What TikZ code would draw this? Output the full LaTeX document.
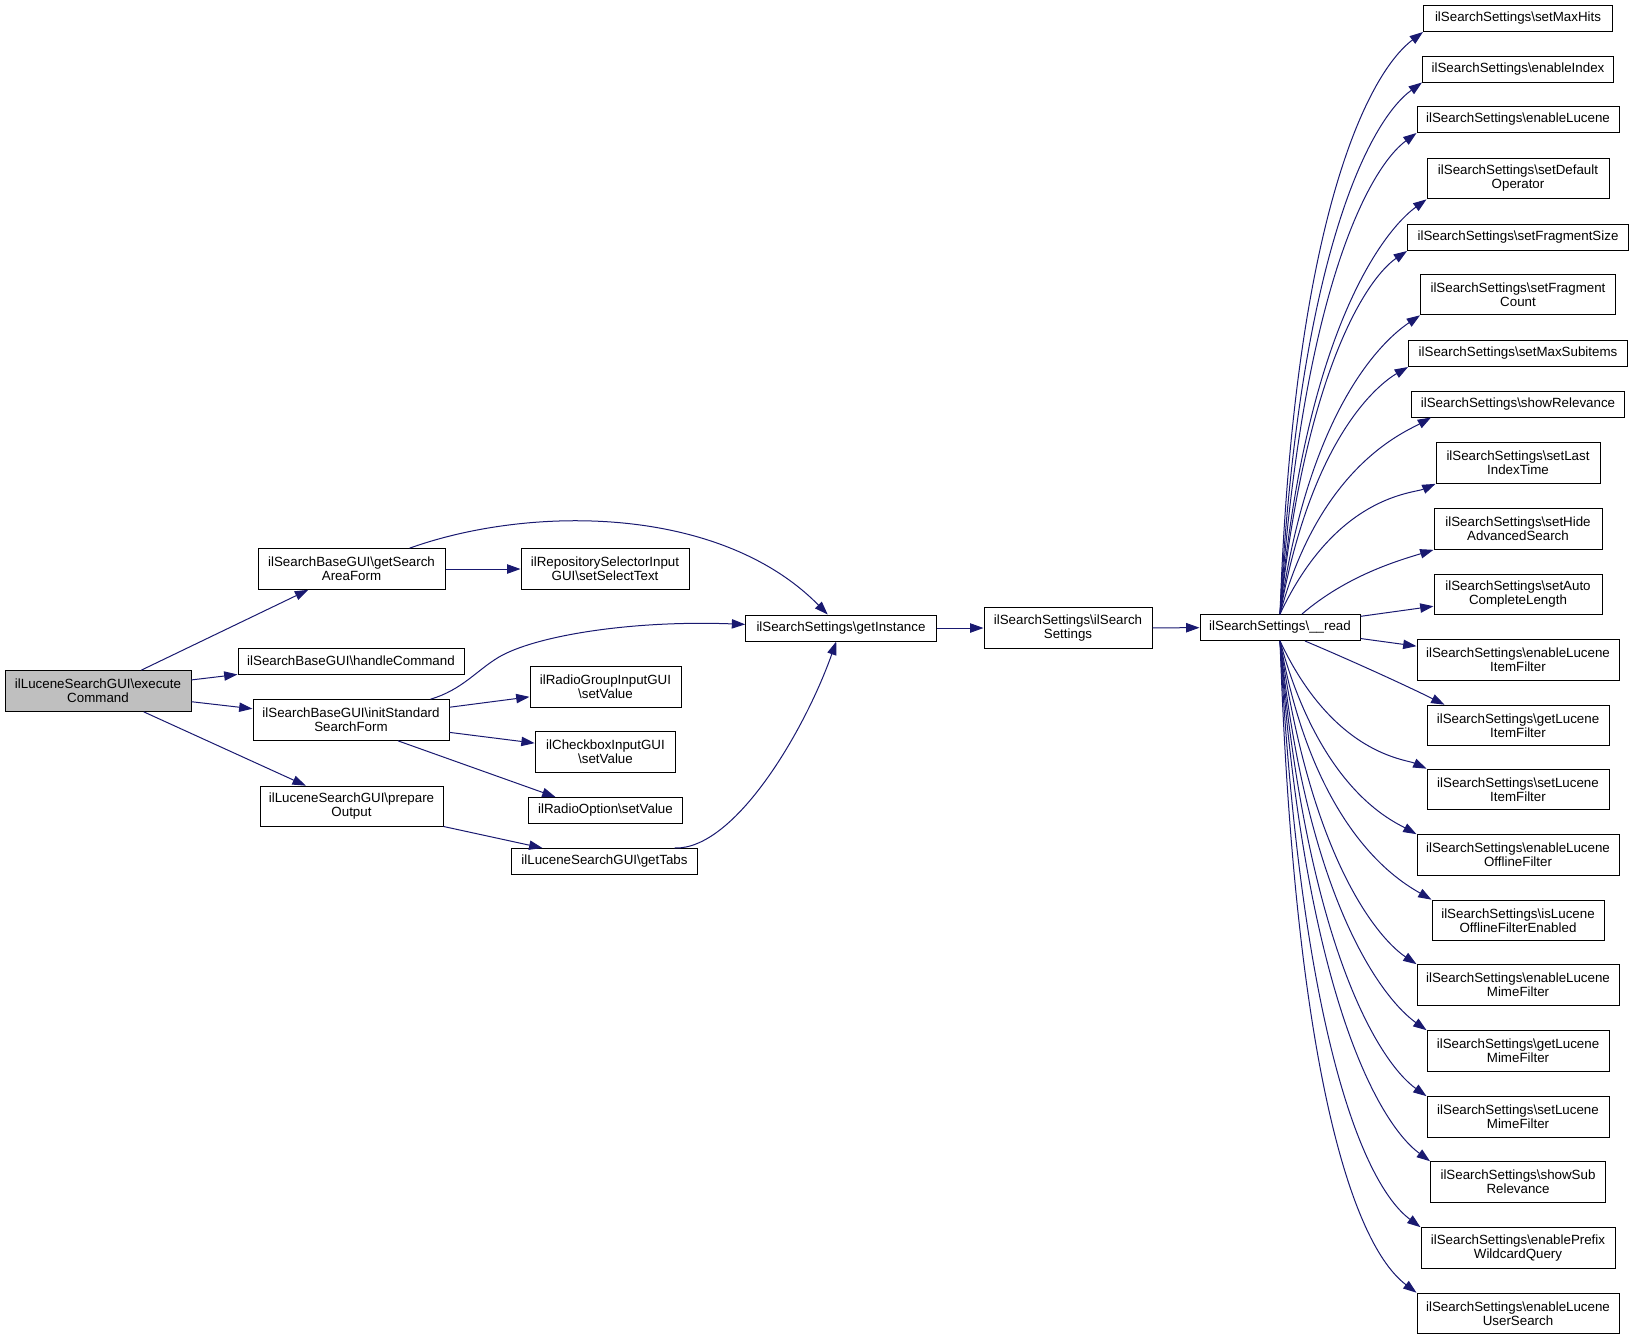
\documentclass[tikz,border=0pt]{standalone}
\usepackage{fontspec}
\setmainfont{Liberation Sans}
\usetikzlibrary{arrows.meta,calc}
\definecolor{nodegray}{RGB}{191,191,191}
\definecolor{callblue}{RGB}{25,25,112}
\newcommand{\bsl}{\textbackslash}
\tikzset{
	fn/.style={draw=black, line width=0.75pt, fill=white, inner xsep=1pt, inner ysep=1pt,
		align=center, font=\fontsize{10pt}{10.5pt}\selectfont},
	one/.style={fn, minimum height=19.5pt},
	two/.style={fn, minimum height=30.5pt},
	call/.style={draw=callblue, line width=0.75pt, -{Triangle[length=10pt,width=7pt]}}
}
\begin{document}
\begin{tikzpicture}[x=0.75pt,y=-0.75pt]
	\useasboundingbox (0,0) rectangle (1633,1339);

	% callers
	\node[two, fill=nodegray, minimum width=139.5pt] (ex) at (98,691) {ilLuceneSearchGUI\bsl execute\\Command};
	\node[two, minimum width=140.25pt] (gsaf) at (351.5,569) {ilSearchBaseGUI\bsl getSearch\\AreaForm};
	\node[one, minimum width=169.5pt] (hc) at (351,661) {ilSearchBaseGUI\bsl handleCommand};
	\node[two, minimum width=147pt] (issf) at (351,720) {ilSearchBaseGUI\bsl initStandard\\SearchForm};
	\node[two, minimum width=137.25pt] (po) at (351.5,806.5) {ilLuceneSearchGUI\bsl prepare\\Output};

	\node[two, minimum width=126pt] (rsi) at (605,569) {ilRepositorySelectorInput\\GUI\bsl setSelectText};
	\node[two, minimum width=113.25pt] (rg) at (605.5,687) {ilRadioGroupInputGUI\\\bsl setValue};
	\node[two, minimum width=105.5pt] (cb) at (605.5,752) {ilCheckboxInputGUI\\\bsl setValue};
	\node[one, minimum width=115pt] (ro) at (605.5,810.5) {ilRadioOption\bsl setValue};
	\node[one, minimum width=140pt] (gt) at (604.5,861.5) {ilLuceneSearchGUI\bsl getTabs};

	\node[one, minimum width=143pt] (gi) at (841,628) {ilSearchSettings\bsl getInstance};
	\node[two, minimum width=126pt] (iss) at (1068,628) {ilSearchSettings\bsl ilSearch\\Settings};
	\node[one, minimum width=120pt] (rd) at (1280,627.5) {ilSearchSettings\bsl\_\_read};

	% settings column
	\node[one, minimum width=141.75pt] (smh) at (1518,18.5) {ilSearchSettings\bsl setMaxHits};
	\node[one, minimum width=143.25pt] (ei) at (1518,69) {ilSearchSettings\bsl enableIndex};
	\node[one, minimum width=151.5pt] (el) at (1518,119.5) {ilSearchSettings\bsl enableLucene};
	\node[two, minimum width=136.5pt] (sdo) at (1518,178.5) {ilSearchSettings\bsl setDefault\\Operator};
	\node[one, minimum width=165.75pt] (sfs) at (1518,237.5) {ilSearchSettings\bsl setFragmentSize};
	\node[two, minimum width=146.25pt] (sfc) at (1518,294.5) {ilSearchSettings\bsl setFragment\\Count};
	\node[one, minimum width=164.25pt] (sms) at (1518,353.5) {ilSearchSettings\bsl setMaxSubitems};
	\node[one, minimum width=159.75pt] (sr) at (1518,404) {ilSearchSettings\bsl showRelevance};
	\node[two, minimum width=123pt] (slit) at (1518,463) {ilSearchSettings\bsl setLast\\IndexTime};
	\node[two, minimum width=126pt] (shas) at (1518,529) {ilSearchSettings\bsl setHide\\AdvancedSearch};
	\node[two, minimum width=126pt] (sacl) at (1518,594.5) {ilSearchSettings\bsl setAuto\\CompleteLength};
	\node[two, minimum width=151.5pt] (elif) at (1518,660) {ilSearchSettings\bsl enableLucene\\ItemFilter};
	\node[two, minimum width=136.5pt] (glif) at (1518,725.5) {ilSearchSettings\bsl getLucene\\ItemFilter};
	\node[two, minimum width=136.5pt] (slif) at (1518,789.5) {ilSearchSettings\bsl setLucene\\ItemFilter};
	\node[two, minimum width=151.5pt] (elof) at (1518,855) {ilSearchSettings\bsl enableLucene\\OfflineFilter};
	\node[two, minimum width=129pt] (ilofe) at (1518,920.5) {ilSearchSettings\bsl isLucene\\OfflineFilterEnabled};
	\node[two, minimum width=151.5pt] (elmf) at (1518,985) {ilSearchSettings\bsl enableLucene\\MimeFilter};
	\node[two, minimum width=136.5pt] (glmf) at (1518,1051) {ilSearchSettings\bsl getLucene\\MimeFilter};
	\node[two, minimum width=136.5pt] (slmf) at (1518,1117) {ilSearchSettings\bsl setLucene\\MimeFilter};
	\node[two, minimum width=131.25pt] (ssr) at (1518,1182) {ilSearchSettings\bsl showSub\\Relevance};
	\node[two, minimum width=145.5pt] (epwq) at (1518,1248) {ilSearchSettings\bsl enablePrefix\\WildcardQuery};
	\node[two, minimum width=151.5pt] (elus) at (1518,1313.5) {ilSearchSettings\bsl enableLucene\\UserSearch};

	% calls
	\draw[call] (ex) -- (gsaf);
	\draw[call] (ex) -- (hc);
	\draw[call] (ex) -- (issf);
	\draw[call] (ex) -- (po);
	\draw[call] (gsaf) -- (rsi);
	\draw[call] (gsaf) .. controls (530,505) and (720,505) .. (gi);
	\draw[call] ($(issf.north east)+(-19,0)$) .. controls (462,690) and (477,670) .. (499,657)
		.. controls (535,636) and (630,620) .. (gi);
	\draw[call] (issf) -- (rg);
	\draw[call] (issf) -- (cb);
	\draw[call] ($(issf.south)+(47,0)$) -- ($(ro.north)+(-50,0)$);
	\draw[call] (po) -- (gt);
	\draw[call] ($(gt.north)+(70,0)$) .. controls (735,850) and (805,730) .. (gi);
	\draw[call] (gi) -- (iss);
	\draw[call] (iss) -- (rd);

	\draw[call] (rd.north) .. controls (1293.6,225.4) and (1365.5,75.3) .. (smh.south west);
	\draw[call] (rd.north) .. controls (1298.8,256.5) and (1369,120.9) .. (ei.south west);
	\draw[call] (rd.north) .. controls (1302.8,289.5) and (1368.9,168.2) .. (el.south west);
	\draw[call] (rd.north) .. controls (1305,329.3) and (1384.2,230.1) .. (sdo.south west);
	\draw[call] (rd.north) .. controls (1306.3,365.2) and (1369,276.6) .. (sfs.south west);
	\draw[call] (rd.north) .. controls (1309.9,402.5) and (1386.8,337.6) .. (sfc.south west);
	\draw[call] (rd.north) .. controls (1311.5,436.4) and (1379,383.8) .. (sms.south west);
	\draw[call] (rd.north) .. controls (1320,465.6) and (1405,432) .. ($(sr.south west)+(20,0)$);
	\draw[call] (rd.north) .. controls (1336.2,494.6) and (1413.8,493.4) .. (slit.south west);
	\draw[call] ($(rd.north)+(22,0)$) .. controls (1347,575.3) and (1399.1,560.3) .. (shas.south west);
	\draw[call] (rd) -- (sacl);
	\draw[call] (rd) -- (elif);
	\draw[call] ($(rd.south)+(25,0)$) .. controls (1350,660) and (1405,685) .. ($(glif.north west)+(18,0)$);
	\draw[call] (rd.south) .. controls (1333.7,755.1) and (1405.7,759.1) .. (slif.north west);
	\draw[call] (rd.south) .. controls (1320,789.1) and (1391.8,820.6) .. (elof.north west);
	\draw[call] (rd.south) .. controls (1314,832.8) and (1400.7,881.9) .. (ilofe.north west);
	\draw[call] (rd.south) .. controls (1311.8,866.5) and (1381.6,941) .. (elmf.north west);
	\draw[call] (rd.south) .. controls (1308.3,909.4) and (1386,1001.3) .. (glmf.north west);
	\draw[call] (rd.south) .. controls (1307.2,950.8) and (1380.4,1063.1) .. (slmf.north west);
	\draw[call] (rd.south) .. controls (1304.6,992.1) and (1377.9,1122.8) .. (ssr.north west);
	\draw[call] (rd.south) .. controls (1300.6,1032.5) and (1363,1184.3) .. (epwq.north west);
	\draw[call] (rd.south) .. controls (1295.1,1073.4) and (1353.1,1244.8) .. (elus.north west);
\end{tikzpicture}
\end{document}
